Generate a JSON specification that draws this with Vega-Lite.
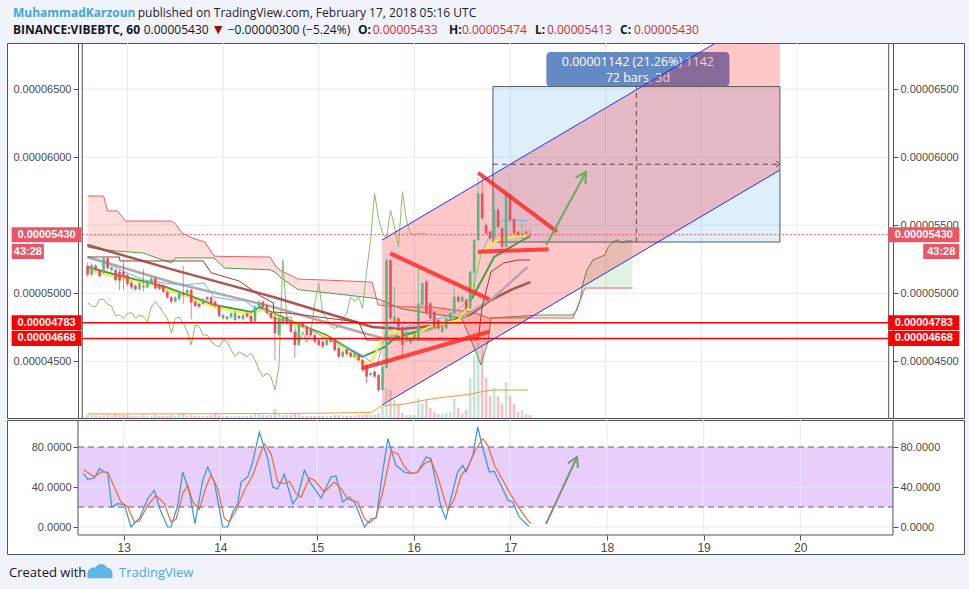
{
"$schema":"https://vega.github.io/schema/vega-lite/v6.json",
"background":"#f0f3fa",
"padding":{"left":6,"right":6,"top":6,"bottom":10},
"spacing":0,
"config":{
 "view":{"fill":"#ffffff","stroke":"#50535e","strokeWidth":1},
 "axis":{"labelFont":"Liberation Sans","labelFontSize":11,"labelColor":"#4a4a4a","tickColor":"#50535e","domainColor":"#50535e","tickSize":5,"labelPadding":2,"grid":false}
},
"datasets":{
"days":[{"t":24},{"t":48},{"t":72},{"t":96},{"t":120},{"t":144},{"t":168},{"t":192}],
"candles":[
{"t":14,"o":5200,"h":5225,"l":5120,"c":5136,"v":3},{"t":15,"o":5136,"h":5220,"l":5125,"c":5207,"v":3},{"t":16,"o":5200,"h":5215,"l":5160,"c":5170,"v":2},{"t":17,"o":5170,"h":5180,"l":5110,"c":5126,"v":2},{"t":18,"o":5151,"h":5268,"l":5140,"c":5257,"v":3},{"t":19,"o":5257,"h":5265,"l":5175,"c":5183,"v":3},{"t":20,"o":5170,"h":5198,"l":5160,"c":5190,"v":2},{"t":21,"o":5170,"h":5180,"l":5085,"c":5097,"v":4},{"t":22,"o":5158,"h":5170,"l":5024,"c":5092,"v":3},{"t":23,"o":5158,"h":5250,"l":5024,"c":5121,"v":3},
{"t":24,"o":5134,"h":5145,"l":5050,"c":5068,"v":3},{"t":25,"o":5077,"h":5090,"l":5030,"c":5043,"v":2},{"t":26,"o":5053,"h":5065,"l":5020,"c":5031,"v":2},{"t":27,"o":5029,"h":5085,"l":5018,"c":5073,"v":2},{"t":28,"o":5053,"h":5178,"l":5011,"c":5043,"v":3},{"t":29,"o":5043,"h":5097,"l":5035,"c":5085,"v":2},{"t":30,"o":5077,"h":5122,"l":5068,"c":5110,"v":2},{"t":31,"o":5110,"h":5120,"l":5025,"c":5036,"v":3},{"t":32,"o":5068,"h":5080,"l":5020,"c":5033,"v":2},{"t":33,"o":5060,"h":5070,"l":5000,"c":5011,"v":2},
{"t":34,"o":5011,"h":5020,"l":4958,"c":4970,"v":2},{"t":35,"o":4970,"h":4980,"l":4925,"c":4938,"v":3},{"t":36,"o":4938,"h":4980,"l":4930,"c":4970,"v":2},{"t":37,"o":4955,"h":5020,"l":4945,"c":5011,"v":4},{"t":38,"o":5004,"h":5200,"l":4921,"c":4987,"v":5},{"t":39,"o":5000,"h":5035,"l":4990,"c":5024,"v":2},{"t":40,"o":5024,"h":5035,"l":4810,"c":4930,"v":3},{"t":41,"o":4938,"h":4950,"l":4895,"c":4906,"v":2},{"t":42,"o":4921,"h":4930,"l":4890,"c":4901,"v":2},{"t":43,"o":4921,"h":4965,"l":4910,"c":4955,"v":2},
{"t":44,"o":4970,"h":4980,"l":4945,"c":4955,"v":2},{"t":45,"o":4970,"h":4978,"l":4910,"c":4921,"v":3},{"t":46,"o":4938,"h":4950,"l":4895,"c":4906,"v":4},{"t":47,"o":4906,"h":4915,"l":4820,"c":4833,"v":3},{"t":48,"o":4816,"h":4850,"l":4805,"c":4840,"v":2},{"t":49,"o":4827,"h":4835,"l":4800,"c":4813,"v":2},{"t":50,"o":4823,"h":4862,"l":4812,"c":4852,"v":2},{"t":51,"o":4803,"h":4867,"l":4790,"c":4857,"v":2},{"t":52,"o":4833,"h":4842,"l":4805,"c":4816,"v":2},{"t":53,"o":4809,"h":4850,"l":4795,"c":4840,"v":2},
{"t":54,"o":4852,"h":4860,"l":4815,"c":4828,"v":2},{"t":55,"o":4833,"h":4842,"l":4780,"c":4791,"v":3},{"t":56,"o":4791,"h":4915,"l":4780,"c":4901,"v":5},{"t":57,"o":4901,"h":4950,"l":4890,"c":4938,"v":4},{"t":58,"o":4938,"h":4948,"l":4890,"c":4901,"v":3},{"t":59,"o":4914,"h":4925,"l":4845,"c":4855,"v":3},{"t":60,"o":4855,"h":4865,"l":4805,"c":4818,"v":3},{"t":61,"o":4828,"h":4840,"l":4510,"c":4706,"v":9},{"t":62,"o":4693,"h":4830,"l":4680,"c":4816,"v":5},{"t":63,"o":4779,"h":4835,"l":4768,"c":4823,"v":3},
{"t":64,"o":4823,"h":4832,"l":4768,"c":4779,"v":3},{"t":65,"o":4779,"h":4788,"l":4705,"c":4717,"v":3},{"t":66,"o":4717,"h":4728,"l":4524,"c":4620,"v":5},{"t":67,"o":4620,"h":4778,"l":4610,"c":4766,"v":4},{"t":68,"o":4779,"h":4790,"l":4745,"c":4754,"v":2},{"t":69,"o":4754,"h":4762,"l":4680,"c":4693,"v":2},{"t":70,"o":4730,"h":4740,"l":4682,"c":4693,"v":2},{"t":71,"o":4693,"h":4702,"l":4632,"c":4644,"v":2},{"t":72,"o":4656,"h":4665,"l":4610,"c":4620,"v":2},{"t":73,"o":4644,"h":4652,"l":4595,"c":4607,"v":2},
{"t":74,"o":4620,"h":4665,"l":4610,"c":4656,"v":2},{"t":75,"o":4661,"h":4670,"l":4635,"c":4644,"v":2},{"t":76,"o":4661,"h":4670,"l":4572,"c":4583,"v":3},{"t":77,"o":4596,"h":4605,"l":4522,"c":4534,"v":3},{"t":78,"o":4534,"h":4580,"l":4525,"c":4570,"v":2},{"t":79,"o":4588,"h":4596,"l":4544,"c":4553,"v":2},{"t":80,"o":4563,"h":4572,"l":4525,"c":4534,"v":2},{"t":81,"o":4534,"h":4568,"l":4525,"c":4559,"v":2},{"t":82,"o":4546,"h":4555,"l":4500,"c":4510,"v":3},{"t":83,"o":4510,"h":4518,"l":4425,"c":4436,"v":3},
{"t":84,"o":4473,"h":4482,"l":4340,"c":4387,"v":4},{"t":85,"o":4399,"h":4420,"l":4390,"c":4412,"v":3},{"t":86,"o":4424,"h":4432,"l":4378,"c":4387,"v":3},{"t":87,"o":4399,"h":4408,"l":4275,"c":4289,"v":5},{"t":88,"o":4289,"h":4470,"l":4280,"c":4460,"v":11},{"t":89,"o":4451,"h":5260,"l":4440,"c":5244,"v":30},{"t":90,"o":5244,"h":5250,"l":4800,"c":4816,"v":28},{"t":91,"o":4779,"h":5048,"l":4770,"c":4828,"v":18},{"t":92,"o":4816,"h":4825,"l":4745,"c":4754,"v":13},{"t":93,"o":4754,"h":4762,"l":4534,"c":4620,"v":5},
{"t":94,"o":4644,"h":4725,"l":4635,"c":4717,"v":3},{"t":95,"o":4663,"h":4672,"l":4630,"c":4640,"v":3},{"t":96,"o":4656,"h":4715,"l":4648,"c":4707,"v":3},{"t":97,"o":4656,"h":5195,"l":4645,"c":4926,"v":20},{"t":98,"o":4914,"h":5085,"l":4905,"c":5073,"v":14},{"t":99,"o":5085,"h":5095,"l":4840,"c":4852,"v":18},{"t":100,"o":4926,"h":4935,"l":4805,"c":4816,"v":10},{"t":101,"o":4864,"h":4872,"l":4742,"c":4754,"v":6},{"t":102,"o":4803,"h":4812,"l":4730,"c":4742,"v":4},{"t":103,"o":4717,"h":4762,"l":4708,"c":4754,"v":4},
{"t":104,"o":4742,"h":4825,"l":4732,"c":4816,"v":5},{"t":105,"o":4803,"h":4862,"l":4795,"c":4852,"v":6},{"t":106,"o":4852,"h":5097,"l":4842,"c":4974,"v":19},{"t":107,"o":4974,"h":4985,"l":4930,"c":4940,"v":10},{"t":108,"o":4940,"h":4985,"l":4932,"c":4974,"v":5},{"t":109,"o":4950,"h":4962,"l":4878,"c":4889,"v":8},{"t":110,"o":4889,"h":5170,"l":4880,"c":5158,"v":40},{"t":111,"o":5150,"h":5400,"l":5010,"c":5391,"v":63},{"t":112,"o":5391,"h":5846,"l":5380,"c":5734,"v":76},{"t":113,"o":5734,"h":5870,"l":5540,"c":5550,"v":71},
{"t":114,"o":5501,"h":5515,"l":5430,"c":5440,"v":40},{"t":115,"o":5452,"h":5462,"l":5392,"c":5403,"v":22},{"t":116,"o":5403,"h":5746,"l":5395,"c":5611,"v":30},{"t":117,"o":5611,"h":5625,"l":5478,"c":5489,"v":22},{"t":118,"o":5477,"h":5488,"l":5330,"c":5342,"v":14},{"t":119,"o":5342,"h":5770,"l":5335,"c":5746,"v":36},{"t":120,"o":5721,"h":5735,"l":5525,"c":5538,"v":22},{"t":121,"o":5543,"h":5555,"l":5430,"c":5440,"v":14},{"t":122,"o":5452,"h":5462,"l":5418,"c":5428,"v":6},{"t":123,"o":5428,"h":5540,"l":5390,"c":5440,"v":8},
{"t":124,"o":5452,"h":5465,"l":5428,"c":5440,"v":4},{"t":125,"o":5433,"h":5474,"l":5413,"c":5430,"v":3}
],
"chikou":[
{"t":14,"p":4930},{"t":15,"p":4906},{"t":16,"p":4901},{"t":17,"p":4955},{"t":18,"p":4955},{"t":19,"p":4921},{"t":20,"p":4906},{"t":21,"p":4833},{"t":22,"p":4840},{"t":23,"p":4813},{"t":24,"p":4852},{"t":25,"p":4857},{"t":26,"p":4816},{"t":27,"p":4840},{"t":28,"p":4828},{"t":29,"p":4791},{"t":30,"p":4901},{"t":31,"p":4938},{"t":32,"p":4901},{"t":33,"p":4855},{"t":34,"p":4818},{"t":35,"p":4706},{"t":36,"p":4816},{"t":37,"p":4823},{"t":38,"p":4779},{"t":39,"p":4717},{"t":40,"p":4620},{"t":41,"p":4766},{"t":42,"p":4754},{"t":43,"p":4693},{"t":44,"p":4693},{"t":45,"p":4644},{"t":46,"p":4620},{"t":47,"p":4607},{"t":48,"p":4656},{"t":49,"p":4644},{"t":50,"p":4583},{"t":51,"p":4534},{"t":52,"p":4570},{"t":53,"p":4553},{"t":54,"p":4534},{"t":55,"p":4559},{"t":56,"p":4510},{"t":57,"p":4436},{"t":58,"p":4387},{"t":59,"p":4412},{"t":60,"p":4387},{"t":61,"p":4289},{"t":62,"p":4460},{"t":63,"p":5244},{"t":64,"p":4816},{"t":65,"p":4828},{"t":66,"p":4754},{"t":67,"p":4620},{"t":68,"p":4717},{"t":69,"p":4640},{"t":70,"p":4707},{"t":71,"p":4926},{"t":72,"p":5073},{"t":73,"p":4852},{"t":74,"p":4816},{"t":75,"p":4754},{"t":76,"p":4742},{"t":77,"p":4754},{"t":78,"p":4816},{"t":79,"p":4852},{"t":80,"p":4974},{"t":81,"p":4940},{"t":82,"p":4974},{"t":83,"p":4889},{"t":84,"p":5158},{"t":85,"p":5391},{"t":86,"p":5734},{"t":87,"p":5550},{"t":88,"p":5440},{"t":89,"p":5403},{"t":90,"p":5611},{"t":91,"p":5489},{"t":92,"p":5342},{"t":93,"p":5746},{"t":94,"p":5538},{"t":95,"p":5440},{"t":96,"p":5428},{"t":97,"p":5440},{"t":98,"p":5440},{"t":99,"p":5430}
],
"ma":[
{"s":"brown","t":13.9,"p":5354},{"s":"brown","t":35.8,"p":5170},{"s":"brown","t":60.6,"p":4972},{"s":"brown","t":75.5,"p":4840},{"s":"brown","t":85.4,"p":4752},{"s":"brown","t":92.9,"p":4737},{"s":"brown","t":102.8,"p":4766},{"s":"brown","t":110.2,"p":4847},{"s":"brown","t":115.2,"p":4950},{"s":"brown","t":120.2,"p":5024},{"s":"brown","t":125.1,"p":5082},
{"s":"grey","t":13.9,"p":5266},{"s":"grey","t":35.8,"p":5075},{"s":"grey","t":60.6,"p":4899},{"s":"grey","t":83.1,"p":4708},{"s":"grey","t":88.0,"p":4671},{"s":"grey","t":99.6,"p":4730},{"s":"grey","t":107.8,"p":4818},{"s":"grey","t":116.0,"p":4972},{"s":"grey","t":124.4,"p":5193},
{"s":"kijun","t":14,"p":5266},{"s":"kijun","t":22,"p":5266},{"s":"kijun","t":22.1,"p":5237},{"s":"kijun","t":43,"p":5237},{"s":"kijun","t":45,"p":5150},{"s":"kijun","t":52,"p":5090},{"s":"kijun","t":57,"p":4987},{"s":"kijun","t":60.6,"p":4928},{"s":"kijun","t":60.7,"p":4862},{"s":"kijun","t":64,"p":4855},{"s":"kijun","t":82,"p":4788},{"s":"kijun","t":84,"p":4656},{"s":"kijun","t":112,"p":4656},{"s":"kijun","t":113,"p":4900},{"s":"kijun","t":115.2,"p":5156},{"s":"kijun","t":118.4,"p":5222},{"s":"kijun","t":122,"p":5244},{"s":"kijun","t":125,"p":5244},
{"s":"green","t":14,"p":5192},{"s":"green","t":21.3,"p":5134},{"s":"green","t":29.7,"p":5075},{"s":"green","t":33.6,"p":5046},{"s":"green","t":37.7,"p":5002},{"s":"green","t":45.9,"p":4913},{"s":"green","t":55.1,"p":4862},{"s":"green","t":57.3,"p":4899},{"s":"green","t":65.6,"p":4788},{"s":"green","t":73.8,"p":4693},{"s":"green","t":82.9,"p":4532},{"s":"green","t":88.6,"p":4605},{"s":"green","t":91.1,"p":4671},{"s":"green","t":99.6,"p":4745},{"s":"green","t":107.8,"p":4825},{"s":"green","t":112,"p":5046},{"s":"green","t":116,"p":5266},{"s":"green","t":121.9,"p":5369},{"s":"green","t":125,"p":5420},
{"s":"yellow","t":14,"p":5170},{"s":"yellow","t":21,"p":5120},{"s":"yellow","t":30,"p":5060},{"s":"yellow","t":38,"p":4985},{"s":"yellow","t":46,"p":4895},{"s":"yellow","t":55,"p":4845},{"s":"yellow","t":58,"p":4880},{"s":"yellow","t":66,"p":4770},{"s":"yellow","t":74,"p":4680},{"s":"yellow","t":82.9,"p":4487},{"s":"yellow","t":85.4,"p":4509},{"s":"yellow","t":88.6,"p":4700},{"s":"yellow","t":91.1,"p":4730},{"s":"yellow","t":93.6,"p":4660},{"s":"yellow","t":99.6,"p":4752},{"s":"yellow","t":107,"p":4803},{"s":"yellow","t":109.5,"p":4899},{"s":"yellow","t":111,"p":5100},{"s":"yellow","t":112.2,"p":5250},{"s":"yellow","t":114.5,"p":5350},{"s":"yellow","t":117.7,"p":5400},{"s":"yellow","t":124.4,"p":5430},
{"s":"blue","t":13.9,"p":5259},{"s":"blue","t":18.4,"p":5229},{"s":"blue","t":23.3,"p":5156},{"s":"blue","t":28.3,"p":5097},{"s":"blue","t":33.3,"p":5075},{"s":"blue","t":38.2,"p":5060},{"s":"blue","t":43.2,"p":5075},{"s":"blue","t":45.7,"p":4972},{"s":"blue","t":50.6,"p":4950},{"s":"blue","t":53.1,"p":4950},{"s":"blue","t":55.6,"p":4899},{"s":"blue","t":58.1,"p":4877},{"s":"blue","t":60.6,"p":4818},{"s":"blue","t":65.5,"p":4788},{"s":"blue","t":68,"p":4766},{"s":"blue","t":73,"p":4678},{"s":"blue","t":77.9,"p":4620},{"s":"blue","t":82.9,"p":4546},{"s":"blue","t":86.6,"p":4458},{"s":"blue","t":89.1,"p":4760},{"s":"blue","t":92.9,"p":4745},{"s":"blue","t":97.8,"p":4788},{"s":"blue","t":102.8,"p":4818},{"s":"blue","t":106.5,"p":4869},{"s":"blue","t":110.2,"p":4965},{"s":"blue","t":112.7,"p":5281},{"s":"blue","t":115.2,"p":5450},{"s":"blue","t":117.7,"p":5530},{"s":"blue","t":120.2,"p":5540},{"s":"blue","t":124.6,"p":5530}
],
"cloud":[
{"g":"bear","t":14,"sa":5339,"sb":5714},{"g":"bear","t":18,"sa":5317,"sb":5714},{"g":"bear","t":19,"sa":5315,"sb":5604},{"g":"bear","t":21.5,"sa":5310,"sb":5604},{"g":"bear","t":23.5,"sa":5305,"sb":5530},{"g":"bear","t":28,"sa":5295,"sb":5530},{"g":"bear","t":35,"sa":5222,"sb":5530},{"g":"bear","t":36,"sa":5259,"sb":5510},{"g":"bear","t":37.7,"sa":5259,"sb":5442},{"g":"bear","t":40.2,"sa":5259,"sb":5406},{"g":"bear","t":43.4,"sa":5259,"sb":5376},{"g":"bear","t":45.7,"sa":5259,"sb":5273},{"g":"bear","t":48.4,"sa":5185,"sb":5270},{"g":"bear","t":59.8,"sa":5172,"sb":5266},{"g":"bear","t":61.3,"sa":5150,"sb":5193},{"g":"bear","t":62.3,"sa":5119,"sb":5170},{"g":"bear","t":66.8,"sa":5026,"sb":5104},{"g":"bear","t":75,"sa":5000,"sb":5095},{"g":"bear","t":85.4,"sa":4965,"sb":5082},{"g":"bear","t":86.9,"sa":4958,"sb":4913},{"g":"bear","t":92.9,"sa":4884,"sb":4899},{"g":"bear","t":100.3,"sa":4850,"sb":4899},{"g":"bear","t":107.8,"sa":4818,"sb":4870},{"g":"bear","t":110.2,"sa":4656,"sb":4862},{"g":"bear","t":112.7,"sa":4473,"sb":4840},{"g":"bear","t":114.5,"sa":4650,"sb":4818},{"g":"bear","t":115.2,"sa":4818,"sb":4818},{"g":"bear","t":127.6,"sa":4840,"sb":4818},{"g":"bear","t":135.8,"sa":4840,"sb":4818},{"g":"bear","t":136.8,"sa":4877,"sb":4891},{"g":"bear","t":137.6,"sa":4950,"sb":4950},
{"g":"bull","t":137.6,"sa":4950,"sb":4950},{"g":"bull","t":138.3,"sa":5075,"sb":5001},{"g":"bull","t":138.8,"sa":5120,"sb":5038},{"g":"bull","t":139.3,"sa":5170,"sb":5038},{"g":"bull","t":140.8,"sa":5244,"sb":5038},{"g":"bull","t":143.8,"sa":5281,"sb":5038},{"g":"bull","t":144.6,"sa":5339,"sb":5038},{"g":"bull","t":145.8,"sa":5376,"sb":5038},{"g":"bull","t":147,"sa":5391,"sb":5038},{"g":"bull","t":148,"sa":5369,"sb":5038},{"g":"bull","t":149.2,"sa":5384,"sb":5038},{"g":"bull","t":150.7,"sa":5384,"sb":5038}
],
"vma":[{"t":14,"v":4},{"t":60,"v":4.5},{"t":84.7,"v":5.5},{"t":88,"v":12},{"t":93.6,"v":14},{"t":98.6,"v":18},{"t":110.2,"v":24},{"t":116,"v":28},{"t":124.4,"v":28}],
"channel":[{"t":87.89,"up":5391,"lo":4179},{"t":187.72,"up":7117,"lo":5905}],
"chev":[{"i":0,"t":186.72,"p":5971},{"i":1,"t":187.72,"p":5949},{"i":2,"t":186.72,"p":5927}],
"drawn":[{"id":"a","t":89.95,"p":5293},{"id":"a","t":114.79,"p":4955},{"id":"b","t":82.93,"p":4449},{"id":"b","t":114.79,"p":4717},{"id":"c","t":111.98,"p":5885},{"id":"c","t":131.77,"p":5452},{"id":"d","t":111.91,"p":5305},{"id":"d","t":129.69,"p":5323}],
"arrow":[{"id":"s","i":0,"t":129.11,"p":5354},{"id":"s","i":1,"t":139.05,"p":5890},{"id":"h","i":0,"t":136.42,"p":5849},{"id":"h","i":1,"t":139.05,"p":5890},{"id":"h","i":2,"t":138.92,"p":5802}],
"sarrow":[{"id":"s","i":0,"t":128.86,"v":3},{"id":"s","i":1,"t":136.56,"v":70},{"id":"h","i":0,"t":134.33,"v":63.7},{"id":"h","i":1,"t":136.56,"v":70},{"id":"h","i":2,"t":136.8,"v":59}],
"tags":[{"p":5430,"lbl":"0.00005430","k":"last"},{"p":4783,"lbl":"0.00004783","k":"line"},{"p":4668,"lbl":"0.00004668","k":"line"}],
"stoch":[
{"s":"K","t":14.07,"v":53.3},{"s":"K","t":15.06,"v":47.7},{"s":"K","t":16.71,"v":49},{"s":"K","t":17.95,"v":58.3},{"s":"K","t":19.19,"v":55},{"s":"K","t":20.02,"v":54.3},{"s":"K","t":21.02,"v":20},{"s":"K","t":22.51,"v":23.3},{"s":"K","t":24.16,"v":22.3},{"s":"K","t":25.81,"v":0},{"s":"K","t":27.05,"v":5.7},{"s":"K","t":27.88,"v":8.3},{"s":"K","t":29.96,"v":28.3},{"s":"K","t":31.6,"v":36.7},{"s":"K","t":33.1,"v":16.7},{"s":"K","t":34.93,"v":0},{"s":"K","t":35.75,"v":0},{"s":"K","t":37.41,"v":21.7},{"s":"K","t":38.65,"v":55},{"s":"K","t":40.3,"v":35},{"s":"K","t":41.7,"v":3.3},{"s":"K","t":43.62,"v":46.7},{"s":"K","t":44.86,"v":60},{"s":"K","t":46.5,"v":45},{"s":"K","t":48.58,"v":0},{"s":"K","t":49.82,"v":0},{"s":"K","t":51.07,"v":15},{"s":"K","t":52.31,"v":23.3},{"s":"K","t":53.13,"v":45},{"s":"K","t":54.79,"v":50},{"s":"K","t":56.03,"v":65},{"s":"K","t":57.67,"v":95},{"s":"K","t":59.76,"v":68.3},{"s":"K","t":61.0,"v":40},{"s":"K","t":62.24,"v":38.3},{"s":"K","t":63.88,"v":52.7},{"s":"K","t":65.96,"v":23.3},{"s":"K","t":67.2,"v":30},{"s":"K","t":68.85,"v":56.7},{"s":"K","t":70.5,"v":43.3},{"s":"K","t":73.0,"v":29},{"s":"K","t":75.5,"v":50},{"s":"K","t":76.7,"v":51},{"s":"K","t":78.4,"v":25},{"s":"K","t":80.0,"v":30},{"s":"K","t":81.3,"v":25},{"s":"K","t":83.8,"v":0},{"s":"K","t":85.4,"v":8.3},{"s":"K","t":86.7,"v":9},{"s":"K","t":88.3,"v":55},{"s":"K","t":89.6,"v":88.3},{"s":"K","t":91.6,"v":61.7},{"s":"K","t":93.7,"v":55},{"s":"K","t":95.3,"v":53.3},{"s":"K","t":97.0,"v":55},{"s":"K","t":99.1,"v":70},{"s":"K","t":100.3,"v":68.3},{"s":"K","t":102.8,"v":20},{"s":"K","t":104.0,"v":8.3},{"s":"K","t":106.9,"v":55},{"s":"K","t":108.2,"v":61.7},{"s":"K","t":109.0,"v":55},{"s":"K","t":110.7,"v":71.7},{"s":"K","t":111.9,"v":100},{"s":"K","t":113.1,"v":80},{"s":"K","t":114.8,"v":55},{"s":"K","t":116.0,"v":55.7},{"s":"K","t":117.7,"v":41.7},{"s":"K","t":119.4,"v":26.7},{"s":"K","t":120.6,"v":25},{"s":"K","t":122.2,"v":10},{"s":"K","t":124.3,"v":1.7},{"s":"K","t":124.7,"v":0.7},
{"s":"D","t":14.06,"v":57.3},{"s":"D","t":16.71,"v":50},{"s":"D","t":18.36,"v":55},{"s":"D","t":20.02,"v":55},{"s":"D","t":21.67,"v":40},{"s":"D","t":23.33,"v":25},{"s":"D","t":24.98,"v":20},{"s":"D","t":26.64,"v":5},{"s":"D","t":27.88,"v":5.7},{"s":"D","t":29.95,"v":21.7},{"s":"D","t":32.02,"v":31.7},{"s":"D","t":34.09,"v":23.3},{"s":"D","t":35.75,"v":5},{"s":"D","t":36.99,"v":7.7},{"s":"D","t":38.65,"v":33.3},{"s":"D","t":39.89,"v":41.7},{"s":"D","t":41.13,"v":25},{"s":"D","t":42.79,"v":17.7},{"s":"D","t":44.44,"v":40},{"s":"D","t":45.69,"v":52.3},{"s":"D","t":47.34,"v":38.3},{"s":"D","t":49.0,"v":8.3},{"s":"D","t":50.24,"v":5},{"s":"D","t":51.9,"v":16.7},{"s":"D","t":53.97,"v":36.7},{"s":"D","t":56.04,"v":51.7},{"s":"D","t":58.11,"v":75},{"s":"D","t":58.93,"v":83.3},{"s":"D","t":60.59,"v":73.3},{"s":"D","t":62.24,"v":45},{"s":"D","t":63.9,"v":43.3},{"s":"D","t":65.14,"v":45.7},{"s":"D","t":66.8,"v":33.3},{"s":"D","t":68.04,"v":30},{"s":"D","t":70.11,"v":49},{"s":"D","t":71.35,"v":46.7},{"s":"D","t":73.84,"v":35},{"s":"D","t":76.32,"v":45},{"s":"D","t":77.98,"v":38.3},{"s":"D","t":79.63,"v":27.7},{"s":"D","t":82.12,"v":25},{"s":"D","t":83.77,"v":8.3},{"s":"D","t":85.02,"v":4},{"s":"D","t":86.67,"v":10},{"s":"D","t":88.33,"v":35},{"s":"D","t":90.4,"v":75.7},{"s":"D","t":92.05,"v":73.3},{"s":"D","t":93.71,"v":60},{"s":"D","t":95.37,"v":53.3},{"s":"D","t":97.02,"v":55},{"s":"D","t":98.68,"v":63.3},{"s":"D","t":100.33,"v":66.7},{"s":"D","t":101.99,"v":50},{"s":"D","t":104.47,"v":16.7},{"s":"D","t":106.13,"v":28.3},{"s":"D","t":107.79,"v":51.7},{"s":"D","t":109.44,"v":60},{"s":"D","t":111.51,"v":78.3},{"s":"D","t":113.17,"v":88.3},{"s":"D","t":114.41,"v":81.7},{"s":"D","t":116.07,"v":61.7},{"s":"D","t":118.14,"v":46.7},{"s":"D","t":120.21,"v":31.7},{"s":"D","t":122.28,"v":18.3},{"s":"D","t":124.35,"v":6.7},{"s":"D","t":125.17,"v":3.3}
]
},
"vconcat":[
{
"width":957,"height":375,
"data":{"values":[{}]},
"resolve":{"scale":{"y":"independent"}},
"layer":[
{"data":{"values":[{"p":4500},{"p":5000},{"p":6000},{"p":6500}]},"mark":{"type":"rule","opacity":0},"encoding":{"x":{"datum":12.65,"type":"quantitative","scale":{"domain":[-4.98,232.66],"nice":false,"zero":false},"axis":null},"x2":{"datum":215.02},"y":{"field":"p","type":"quantitative","scale":{"domain":[4083.5,6838],"nice":false,"zero":false},"axis":{"orient":"left","offset":-71,"values":[4500,5000,6000,6500],"labelExpr":"format(datum.value/100000000,'.8f')","title":null}}}},
{"data":{"values":[{"p":4500},{"p":5000},{"p":5500},{"p":6000},{"p":6500}]},"mark":{"type":"rule","opacity":0},"encoding":{"x":{"datum":12.65,"type":"quantitative","axis":null},"x2":{"datum":215.02},"y":{"field":"p","type":"quantitative","scale":{"domain":[4083.5,6838],"nice":false,"zero":false},"axis":{"orient":"right","offset":-71,"values":[4500,5000,5500,6000,6500],"labelExpr":"format(datum.value/100000000,'.8f')","title":null}}}},
{"layer":[
{"data":{"values":[{"p":4500},{"p":5000},{"p":5500},{"p":6000},{"p":6500}]},"mark":{"type":"rule","color":"#e4eaf1"},"encoding":{"x":{"datum":12.65,"type":"quantitative","axis":null},"x2":{"datum":215.02},"y":{"field":"p","type":"quantitative","scale":{"domain":[4083.5,6838],"nice":false,"zero":false},"axis":null}}},
{"data":{"name":"days"},"mark":{"type":"rule","color":"#e4eaf1"},"encoding":{"x":{"field":"t","type":"quantitative","axis":null},"y":{"datum":4083.5,"type":"quantitative","axis":null},"y2":{"datum":6838}}},
{"data":{"name":"cloud"},"transform":[{"filter":"datum.g=='bear'"}],"mark":{"type":"area","color":"#ff0000","opacity":0.13},"encoding":{"x":{"field":"t","type":"quantitative","axis":null},"y":{"field":"sa","type":"quantitative","axis":null},"y2":{"field":"sb"}}},
{"data":{"name":"cloud"},"transform":[{"filter":"datum.g=='bull'"}],"mark":{"type":"area","color":"#4caf50","opacity":0.16},"encoding":{"x":{"field":"t","type":"quantitative","axis":null},"y":{"field":"sa","type":"quantitative","axis":null},"y2":{"field":"sb"}}},
{"data":{"name":"cloud"},"mark":{"type":"line","color":"#4b9e4b","strokeWidth":1},"encoding":{"x":{"field":"t","type":"quantitative","axis":null},"y":{"field":"sa","type":"quantitative","axis":null}}},
{"data":{"name":"cloud"},"mark":{"type":"line","color":"#f25c5c","strokeWidth":1},"encoding":{"x":{"field":"t","type":"quantitative","axis":null},"y":{"field":"sb","type":"quantitative","axis":null}}},
{"mark":{"type":"rect","color":"#2196f3","opacity":0.15},"encoding":{"x":{"datum":115.71,"type":"quantitative","axis":null},"x2":{"datum":187.72},"y":{"datum":5376,"type":"quantitative","axis":null},"y2":{"datum":6518}}},
{"mark":{"type":"rect","color":"#6589c3","cornerRadius":4},"encoding":{"x":{"datum":129.11,"type":"quantitative","axis":null},"x2":{"datum":175.05},"y":{"datum":6518,"type":"quantitative","axis":null},"y2":{"datum":6771}}},
{"mark":{"type":"text","text":"0.00001142 (21.26%) 1142","color":"#ffffff","font":"Open Sans","fontSize":12.5,"align":"center","baseline":"middle"},"encoding":{"x":{"datum":152.08,"type":"quantitative","axis":null},"y":{"datum":6699,"type":"quantitative","axis":null}}},
{"mark":{"type":"text","text":"72 bars, 3d","color":"#ffffff","font":"Open Sans","fontSize":12.5,"align":"center","baseline":"middle"},"encoding":{"x":{"datum":152.08,"type":"quantitative","axis":null},"y":{"datum":6578,"type":"quantitative","axis":null}}},
{"data":{"name":"channel"},"mark":{"type":"area","color":"#ff0000","opacity":0.22,"clip":true},"encoding":{"x":{"field":"t","type":"quantitative","axis":null},"y":{"field":"up","type":"quantitative","axis":null},"y2":{"field":"lo"}}},
{"mark":{"type":"rect","filled":false,"color":"#5a5a5a","strokeWidth":1},"encoding":{"x":{"datum":115.71,"type":"quantitative","axis":null},"x2":{"datum":187.72},"y":{"datum":5376,"type":"quantitative","axis":null},"y2":{"datum":6518}}},
{"mark":{"type":"rule","color":"#6b4a4a","strokeDash":[5,4]},"encoding":{"x":{"datum":151.71,"type":"quantitative","axis":null},"y":{"datum":5376,"type":"quantitative","axis":null},"y2":{"datum":6518}}},
{"mark":{"type":"rule","color":"#6b4a4a","strokeDash":[5,4]},"encoding":{"x":{"datum":115.71,"type":"quantitative","axis":null},"x2":{"datum":187.72},"y":{"datum":5947,"type":"quantitative","axis":null}}},
{"data":{"name":"chev"},"mark":{"type":"line","color":"#6b4a4a","strokeWidth":1},"encoding":{"x":{"field":"t","type":"quantitative","axis":null},"y":{"field":"p","type":"quantitative","axis":null},"order":{"field":"i"}}},
{"data":{"name":"chikou"},"mark":{"type":"line","color":"#86c06c","strokeWidth":1},"encoding":{"x":{"field":"t","type":"quantitative","axis":null},"y":{"field":"p","type":"quantitative","axis":null}}},
{"data":{"name":"ma"},"transform":[{"filter":"datum.s=='brown'"}],"mark":{"type":"line","color":"#a3443e","strokeWidth":2.5,"opacity":0.9},"encoding":{"x":{"field":"t","type":"quantitative","axis":null},"y":{"field":"p","type":"quantitative","axis":null}}},
{"data":{"name":"ma"},"transform":[{"filter":"datum.s=='grey'"}],"mark":{"type":"line","color":"#b2a9a9","strokeWidth":2.5},"encoding":{"x":{"field":"t","type":"quantitative","axis":null},"y":{"field":"p","type":"quantitative","axis":null}}},
{"data":{"name":"ma"},"transform":[{"filter":"datum.s=='kijun'"}],"mark":{"type":"line","color":"#9c3b3b","strokeWidth":1},"encoding":{"x":{"field":"t","type":"quantitative","axis":null},"y":{"field":"p","type":"quantitative","axis":null}}},
{"data":{"name":"ma"},"transform":[{"filter":"datum.s=='green'"}],"mark":{"type":"line","color":"#43a047","strokeWidth":2},"encoding":{"x":{"field":"t","type":"quantitative","axis":null},"y":{"field":"p","type":"quantitative","axis":null}}},
{"data":{"name":"ma"},"transform":[{"filter":"datum.s=='yellow'"}],"mark":{"type":"line","color":"#ffeb3b","strokeWidth":2},"encoding":{"x":{"field":"t","type":"quantitative","axis":null},"y":{"field":"p","type":"quantitative","axis":null}}},
{"data":{"name":"ma"},"transform":[{"filter":"datum.s=='blue'"}],"mark":{"type":"line","color":"#64b5f6","strokeWidth":1},"encoding":{"x":{"field":"t","type":"quantitative","axis":null},"y":{"field":"p","type":"quantitative","axis":null}}},
{"data":{"name":"candles"},"mark":{"type":"rule","opacity":0.7},"encoding":{"x":{"field":"t","type":"quantitative","axis":null},"y":{"field":"l","type":"quantitative","axis":null},"y2":{"field":"h"},"color":{"condition":{"test":"datum.c>=datum.o","value":"#53b987"},"value":"#eb4d5c"}}},
{"data":{"name":"candles"},"mark":{"type":"bar","width":2.6},"encoding":{"x":{"field":"t","type":"quantitative","axis":null},"y":{"field":"o","type":"quantitative","axis":null},"y2":{"field":"c"},"color":{"condition":{"test":"datum.c>=datum.o","value":"#53b987"},"value":"#eb4d5c"}}},
{"data":{"values":[{"p":4783},{"p":4668}]},"mark":{"type":"rule","color":"#ff0000","strokeWidth":1.5},"encoding":{"x":{"datum":12.65,"type":"quantitative","axis":null},"x2":{"datum":215.02},"y":{"field":"p","type":"quantitative","axis":null}}},
{"mark":{"type":"rule","color":"#ef4f5f","strokeDash":[2,2]},"encoding":{"x":{"datum":12.65,"type":"quantitative","axis":null},"x2":{"datum":215.02},"y":{"datum":5430,"type":"quantitative","axis":null}}},
{"data":{"name":"drawn"},"mark":{"type":"line","color":"#ff2a2a","strokeWidth":4,"opacity":0.85},"encoding":{"x":{"field":"t","type":"quantitative","axis":null},"y":{"field":"p","type":"quantitative","axis":null},"detail":{"field":"id"}}},
{"data":{"name":"channel"},"mark":{"type":"line","color":"#2b2bff","strokeWidth":1,"clip":true},"encoding":{"x":{"field":"t","type":"quantitative","axis":null},"y":{"field":"up","type":"quantitative","axis":null}}},
{"data":{"name":"channel"},"mark":{"type":"line","color":"#2b2bff","strokeWidth":1,"clip":true},"encoding":{"x":{"field":"t","type":"quantitative","axis":null},"y":{"field":"lo","type":"quantitative","axis":null}}},
{"data":{"name":"arrow"},"mark":{"type":"line","color":"#6aab5a","strokeWidth":2},"encoding":{"x":{"field":"t","type":"quantitative","axis":null},"y":{"field":"p","type":"quantitative","axis":null},"detail":{"field":"id"},"order":{"field":"i"}}},
{"mark":{"type":"rule","color":"#50535e"},"encoding":{"x":{"datum":12.65,"type":"quantitative","axis":null},"y":{"datum":4083.5,"type":"quantitative","axis":null},"y2":{"datum":6838}}},
{"mark":{"type":"rule","color":"#50535e"},"encoding":{"x":{"datum":215.02,"type":"quantitative","axis":null},"y":{"datum":4083.5,"type":"quantitative","axis":null},"y2":{"datum":6838}}},
{"data":{"name":"tags"},"mark":{"type":"point","shape":"M-1,-0.2143L1,-0.2143L1,0.2143L-1,0.2143Z","size":4900,"filled":true,"opacity":1},"encoding":{"x":{"datum":3.71,"type":"quantitative","axis":null},"y":{"field":"p","type":"quantitative","axis":null},"color":{"condition":{"test":"datum.k=='last'","value":"#ec5565"},"value":"#ff0000"}}},
{"data":{"name":"tags"},"mark":{"type":"point","shape":"M-1,-0.2113L1,-0.2113L1,0.2113L-1,0.2113Z","size":5041,"filled":true,"opacity":1},"encoding":{"x":{"datum":223.85,"type":"quantitative","axis":null},"y":{"field":"p","type":"quantitative","axis":null},"color":{"condition":{"test":"datum.k=='last'","value":"#ec5565"},"value":"#ff0000"}}},
{"data":{"name":"tags"},"mark":{"type":"text","color":"#ffffff","font":"Liberation Sans","fontSize":11,"fontWeight":"bold","align":"center","baseline":"middle"},"encoding":{"x":{"datum":3.71,"type":"quantitative","axis":null},"y":{"field":"p","type":"quantitative","axis":null},"text":{"field":"lbl"}}},
{"data":{"name":"tags"},"mark":{"type":"text","color":"#ffffff","font":"Liberation Sans","fontSize":11,"fontWeight":"bold","align":"center","baseline":"middle"},"encoding":{"x":{"datum":223.85,"type":"quantitative","axis":null},"y":{"field":"p","type":"quantitative","axis":null},"text":{"field":"lbl"}}},
{"mark":{"type":"point","shape":"M-1,-0.469L1,-0.469L1,0.469L-1,0.469Z","size":1024,"filled":true,"opacity":1,"color":"#ec5565"},"encoding":{"x":{"datum":-1.0,"type":"quantitative","axis":null},"y":{"datum":5306,"type":"quantitative","axis":null}}},
{"mark":{"type":"point","shape":"M-1,-0.4167L1,-0.4167L1,0.4167L-1,0.4167Z","size":1296,"filled":true,"opacity":1,"color":"#ec5565"},"encoding":{"x":{"datum":228.2,"type":"quantitative","axis":null},"y":{"datum":5306,"type":"quantitative","axis":null}}},
{"mark":{"type":"text","text":"43:28","color":"#ffffff","font":"Liberation Sans","fontSize":11,"fontWeight":"bold","align":"center","baseline":"middle"},"encoding":{"x":{"datum":-1.0,"type":"quantitative","axis":null},"y":{"datum":5306,"type":"quantitative","axis":null}}},
{"mark":{"type":"text","text":"43:28","color":"#ffffff","font":"Liberation Sans","fontSize":11,"fontWeight":"bold","align":"center","baseline":"middle"},"encoding":{"x":{"datum":228.2,"type":"quantitative","axis":null},"y":{"datum":5306,"type":"quantitative","axis":null}}},
{"mark":{"type":"text","text":"MuhammadKarzoun","align":"left","baseline":"middle","font":"Open Sans","fontSize":12,"fontWeight":"bold","color":"#45a5dc","dx":0},"encoding":{"x":{"datum":-4.73,"type":"quantitative","axis":null},"y":{"datum":7058,"type":"quantitative","axis":null}}},
{"mark":{"type":"text","text":"published on TradingView.com, February 17, 2018 05:16 UTC","align":"left","baseline":"middle","font":"Open Sans","fontSize":12,"color":"#1e222d","dx":124.7},"encoding":{"x":{"datum":-4.73,"type":"quantitative","axis":null},"y":{"datum":7058,"type":"quantitative","axis":null}}},
{"mark":{"type":"text","text":"BINANCE:VIBEBTC, 60","align":"left","baseline":"middle","font":"Open Sans","fontSize":12,"fontWeight":"bold","color":"#131722","dx":0},"encoding":{"x":{"datum":-4.73,"type":"quantitative","axis":null},"y":{"datum":6933,"type":"quantitative","axis":null}}},
{"mark":{"type":"text","text":"0.00005430","align":"left","baseline":"middle","font":"Open Sans","fontSize":12,"color":"#131722","dx":130.7},"encoding":{"x":{"datum":-4.73,"type":"quantitative","axis":null},"y":{"datum":6933,"type":"quantitative","axis":null}}},
{"mark":{"type":"text","text":"▼","align":"left","baseline":"middle","font":"DejaVu Sans","fontSize":11,"color":"#9b0d0d","dx":201},"encoding":{"x":{"datum":-4.73,"type":"quantitative","axis":null},"y":{"datum":6933,"type":"quantitative","axis":null}}},
{"mark":{"type":"text","text":"−0.00000300 (−5.24%)","align":"left","baseline":"middle","font":"Open Sans","fontSize":12,"color":"#131722","dx":214.7},"encoding":{"x":{"datum":-4.73,"type":"quantitative","axis":null},"y":{"datum":6933,"type":"quantitative","axis":null}}},
{"mark":{"type":"text","text":"O:","align":"left","baseline":"middle","font":"Open Sans","fontSize":12,"fontWeight":"bold","color":"#131722","dx":345},"encoding":{"x":{"datum":-4.73,"type":"quantitative","axis":null},"y":{"datum":6933,"type":"quantitative","axis":null}}},
{"mark":{"type":"text","text":"0.00005433","align":"left","baseline":"middle","font":"Open Sans","fontSize":12,"color":"#dd2a2a","dx":359.7},"encoding":{"x":{"datum":-4.73,"type":"quantitative","axis":null},"y":{"datum":6933,"type":"quantitative","axis":null}}},
{"mark":{"type":"text","text":"H:","align":"left","baseline":"middle","font":"Open Sans","fontSize":12,"fontWeight":"bold","color":"#131722","dx":436},"encoding":{"x":{"datum":-4.73,"type":"quantitative","axis":null},"y":{"datum":6933,"type":"quantitative","axis":null}}},
{"mark":{"type":"text","text":"0.00005474","align":"left","baseline":"middle","font":"Open Sans","fontSize":12,"color":"#dd2a2a","dx":449},"encoding":{"x":{"datum":-4.73,"type":"quantitative","axis":null},"y":{"datum":6933,"type":"quantitative","axis":null}}},
{"mark":{"type":"text","text":"L:","align":"left","baseline":"middle","font":"Open Sans","fontSize":12,"fontWeight":"bold","color":"#131722","dx":522},"encoding":{"x":{"datum":-4.73,"type":"quantitative","axis":null},"y":{"datum":6933,"type":"quantitative","axis":null}}},
{"mark":{"type":"text","text":"0.00005413","align":"left","baseline":"middle","font":"Open Sans","fontSize":12,"color":"#dd2a2a","dx":534},"encoding":{"x":{"datum":-4.73,"type":"quantitative","axis":null},"y":{"datum":6933,"type":"quantitative","axis":null}}},
{"mark":{"type":"text","text":"C:","align":"left","baseline":"middle","font":"Open Sans","fontSize":12,"fontWeight":"bold","color":"#131722","dx":607},"encoding":{"x":{"datum":-4.73,"type":"quantitative","axis":null},"y":{"datum":6933,"type":"quantitative","axis":null}}},
{"mark":{"type":"text","text":"0.00005430","align":"left","baseline":"middle","font":"Open Sans","fontSize":12,"color":"#dd2a2a","dx":621},"encoding":{"x":{"datum":-4.73,"type":"quantitative","axis":null},"y":{"datum":6933,"type":"quantitative","axis":null}}}
]},
{"layer":[
{"data":{"name":"candles"},"mark":{"type":"bar","width":2.6,"opacity":0.35},"encoding":{"x":{"field":"t","type":"quantitative","axis":null},"y":{"field":"v","type":"quantitative","scale":{"domain":[0,375],"nice":false},"axis":null},"color":{"condition":{"test":"datum.c>=datum.o","value":"#53b987"},"value":"#eb4d5c"}}},
{"data":{"name":"vma"},"mark":{"type":"line","color":"#f7953b","strokeWidth":1,"interpolate":"monotone"},"encoding":{"x":{"field":"t","type":"quantitative","axis":null},"y":{"field":"v","type":"quantitative","axis":null}}}
]}
]
},
{
"width":957,"height":134,
"data":{"values":[{}]},
"resolve":{"scale":{"y":"independent","x":"independent"}},
"layer":[
{"data":{"name":"days"},"mark":{"type":"rule","opacity":0},"encoding":{"x":{"field":"t","type":"quantitative","scale":{"domain":[-4.98,232.66],"nice":false,"zero":false},"axis":{"orient":"bottom","offset":-19,"values":[24,48,72,96,120,144,168,192],"labelExpr":"format(datum.value/24+12,'d')","domain":false,"labelFontSize":12,"title":null}},"y":{"datum":-8,"type":"quantitative","scale":{"domain":[-27,107],"nice":false,"zero":false},"axis":null},"y2":{"datum":107}}},
{"data":{"values":[{"v":0},{"v":40},{"v":80}]},"mark":{"type":"rule","opacity":0},"encoding":{"x":{"datum":12.65,"type":"quantitative","scale":{"domain":[-4.98,232.66],"nice":false,"zero":false},"axis":null},"x2":{"datum":215.02},"y":{"field":"v","type":"quantitative","scale":{"domain":[-27,107],"nice":false,"zero":false},"axis":{"orient":"left","offset":-71,"values":[0,40,80],"format":".4f","domain":false,"title":null}}}},
{"data":{"values":[{"v":0},{"v":40},{"v":80}]},"mark":{"type":"rule","opacity":0},"encoding":{"x":{"datum":12.65,"type":"quantitative","scale":{"domain":[-4.98,232.66],"nice":false,"zero":false},"axis":null},"x2":{"datum":215.02},"y":{"field":"v","type":"quantitative","scale":{"domain":[-27,107],"nice":false,"zero":false},"axis":{"orient":"right","offset":-71,"values":[0,40,80],"format":".4f","domain":false,"title":null}}}},
{"layer":[
{"mark":{"type":"rect","color":"#e8cefb"},"encoding":{"x":{"datum":12.65,"type":"quantitative","scale":{"domain":[-4.98,232.66],"nice":false,"zero":false},"axis":null},"x2":{"datum":215.02},"y":{"datum":20,"type":"quantitative","scale":{"domain":[-27,107],"nice":false,"zero":false},"axis":null},"y2":{"datum":80}}},
{"data":{"values":[{"v":0},{"v":40}]},"mark":{"type":"rule","color":"#e4eaf1"},"encoding":{"x":{"datum":12.65,"type":"quantitative","axis":null},"x2":{"datum":215.02},"y":{"field":"v","type":"quantitative","axis":null}}},
{"data":{"name":"days"},"mark":{"type":"rule","color":"#e4eaf1"},"encoding":{"x":{"field":"t","type":"quantitative","axis":null},"y":{"datum":-8,"type":"quantitative","axis":null},"y2":{"datum":107}}},
{"data":{"values":[{"v":20},{"v":80}]},"mark":{"type":"rule","color":"#6a5a6e","strokeDash":[6,4]},"encoding":{"x":{"datum":12.65,"type":"quantitative","axis":null},"x2":{"datum":215.02},"y":{"field":"v","type":"quantitative","axis":null}}},
{"data":{"name":"stoch"},"transform":[{"filter":"datum.s=='K'"}],"mark":{"type":"line","color":"#2f96ec","strokeWidth":1.2},"encoding":{"x":{"field":"t","type":"quantitative","axis":null},"y":{"field":"v","type":"quantitative","axis":null}}},
{"data":{"name":"stoch"},"transform":[{"filter":"datum.s=='D'"}],"mark":{"type":"line","color":"#f26a2c","strokeWidth":1.2},"encoding":{"x":{"field":"t","type":"quantitative","axis":null},"y":{"field":"v","type":"quantitative","axis":null}}},
{"data":{"name":"sarrow"},"mark":{"type":"line","color":"#7a9572","strokeWidth":2},"encoding":{"x":{"field":"t","type":"quantitative","axis":null},"y":{"field":"v","type":"quantitative","axis":null},"detail":{"field":"id"},"order":{"field":"i"}}},
{"mark":{"type":"rule","color":"#50535e"},"encoding":{"x":{"datum":12.65,"type":"quantitative","axis":null},"y":{"datum":-8,"type":"quantitative","axis":null},"y2":{"datum":107}}},
{"mark":{"type":"rule","color":"#50535e"},"encoding":{"x":{"datum":215.02,"type":"quantitative","axis":null},"y":{"datum":-8,"type":"quantitative","axis":null},"y2":{"datum":107}}},
{"mark":{"type":"rule","color":"#50535e"},"encoding":{"x":{"datum":12.65,"type":"quantitative","axis":null},"x2":{"datum":215.02},"y":{"datum":-8,"type":"quantitative","axis":null}}},
{"mark":{"type":"text","text":"Created with","align":"left","baseline":"middle","font":"Open Sans","fontSize":13,"color":"#131722"},"encoding":{"x":{"datum":-4.48,"type":"quantitative","axis":null},"y":{"datum":-45.5,"type":"quantitative","axis":null}}},
{"mark":{"type":"point","shape":"M-1,0.45L-1,0.1C-1,-0.25 -0.7,-0.45 -0.35,-0.4C-0.2,-0.75 0.35,-0.8 0.55,-0.4C0.85,-0.4 1,-0.15 1,0.15L1,0.45Z","size":625,"filled":true,"opacity":1,"color":"#5db6e4"},"encoding":{"x":{"datum":18.11,"type":"quantitative","axis":null},"y":{"datum":-45.5,"type":"quantitative","axis":null}}},
{"mark":{"type":"text","text":"TradingView","align":"left","baseline":"middle","font":"Open Sans","fontSize":13,"color":"#4ea9db","dx":110},"encoding":{"x":{"datum":-4.48,"type":"quantitative","axis":null},"y":{"datum":-45.5,"type":"quantitative","axis":null}}}
]}
]
}
]
}
